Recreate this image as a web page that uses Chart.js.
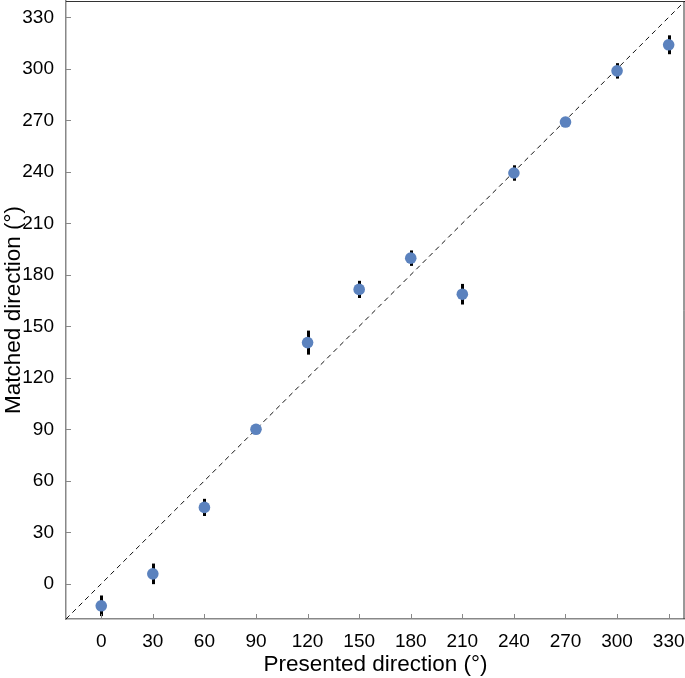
<!DOCTYPE html>
<html>
<head>
<meta charset="utf-8">
<script src="https://cdn.jsdelivr.net/npm/chart.js@4"></script>
<style>
  html, body { margin: 0; padding: 0; background: #fff; }
  #wrap { width: 685px; height: 678px; }
</style>
</head>
<body>
<div id="wrap"><canvas id="c"></canvas></div>
<script>
const presented = [0, 30, 60, 90, 120, 150, 180, 210, 240, 270, 300, 330];
const matched = [-12.8, 5.8, 44.5, 90, 140.5, 171.5, 189.7, 168.7, 239.3, 269, 298.8, 314];
const errors = [6, 6, 5, 2, 7, 5, 4.5, 6, 4.5, 2, 4.5, 5.5];
const tickValues = [0, 30, 60, 90, 120, 150, 180, 210, 240, 270, 300, 330];
const axisMin = -20.5;
const axisMax = 339.5;

const fontFamily = 'Arial, "Liberation Sans", Helvetica, sans-serif';

// error bars, inward ticks, top/right frame
const extras = {
  id: 'extras',
  beforeDatasetsDraw(chart) {
    const ctx = chart.ctx;
    const xs = chart.scales.x, ys = chart.scales.y;
    ctx.save();
    ctx.strokeStyle = '#000';
    ctx.lineWidth = 3;
    presented.forEach((p, i) => {
      const px = Math.round(xs.getPixelForValue(p)) + 0.5;
      ctx.beginPath();
      ctx.moveTo(px, ys.getPixelForValue(matched[i] - errors[i]));
      ctx.lineTo(px, ys.getPixelForValue(matched[i] + errors[i]));
      ctx.stroke();
    });
    ctx.restore();
  },
  afterDraw(chart) {
    const ctx = chart.ctx;
    const a = chart.chartArea;
    const xs = chart.scales.x, ys = chart.scales.y;
    ctx.save();
    ctx.strokeStyle = '#888';
    ctx.lineWidth = 1;
    tickValues.forEach(v => {
      const px = Math.round(xs.getPixelForValue(v)) + 0.5;
      ctx.beginPath();
      ctx.moveTo(px, a.bottom);
      ctx.lineTo(px, a.bottom - 5);
      ctx.stroke();
      const py = Math.round(ys.getPixelForValue(v)) + 0.5;
      ctx.beginPath();
      ctx.moveTo(a.left, py);
      ctx.lineTo(a.left + 5, py);
      ctx.stroke();
    });
    ctx.strokeStyle = '#333';
    ctx.beginPath();
    ctx.moveTo(a.left, a.top + 0.5);
    ctx.lineTo(a.right - 1, a.top + 0.5);
    ctx.lineTo(a.right - 1, a.bottom);
    ctx.stroke();
    ctx.restore();
  }
};

new Chart(document.getElementById('c'), {
  type: 'scatter',
  data: {
    datasets: [
      {
        label: 'identity',
        type: 'line',
        data: [{ x: axisMin, y: axisMin }, { x: axisMax, y: axisMax }],
        borderColor: '#111',
        borderWidth: 1,
        borderDash: [5, 4],
        pointRadius: 0,
        order: 2
      },
      {
        label: 'matched',
        data: presented.map((p, i) => ({ x: p, y: matched[i] })),
        backgroundColor: '#5b82be',
        borderWidth: 0,
        pointRadius: 5.8,
        order: 1
      }
    ]
  },
  options: {
    responsive: true,
    maintainAspectRatio: false,
    animation: false,
    layout: { autoPadding: false, padding: { top: 1, right: 0, left: 0, bottom: 0 } },
    plugins: { legend: { display: false }, tooltip: { enabled: false } },
    scales: {
      x: {
        type: 'linear',
        min: axisMin,
        max: axisMax,
        afterBuildTicks: s => { s.ticks = tickValues.map(v => ({ value: v })); },
        afterFit: s => { s.height = 59; s.paddingLeft = 0; s.paddingRight = 0; },
        grid: { display: false },
        border: { display: true, color: '#888', width: 1.5 },
        ticks: { color: '#000', font: { size: 19, family: fontFamily }, padding: 3, maxRotation: 0 },
        title: { display: true, text: 'Presented direction (°)', color: '#000', font: { size: 22.5, family: fontFamily }, padding: { top: 2, bottom: 0 } }
      },
      y: {
        type: 'linear',
        min: axisMin,
        max: axisMax,
        afterBuildTicks: s => { s.ticks = tickValues.map(v => ({ value: v })); },
        afterFit: s => { s.width = 66; s.paddingTop = 0; s.paddingBottom = 0; },
        grid: { display: false },
        border: { display: true, color: '#888', width: 1.5 },
        ticks: { color: '#000', font: { size: 19, family: fontFamily }, padding: 4 },
        title: { display: true, text: 'Matched direction (°)', color: '#000', font: { size: 22.5, family: fontFamily }, padding: { top: 0, bottom: 0 } }
      }
    }
  },
  plugins: [extras]
});
</script>
</body>
</html>
